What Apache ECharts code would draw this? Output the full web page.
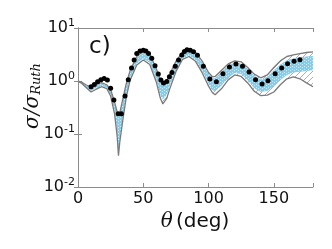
<!DOCTYPE html>
<html><head><meta charset="utf-8">
<script src="https://cdn.jsdelivr.net/npm/echarts@6/dist/echarts.min.js"></script>
<style>html,body{margin:0;padding:0;background:#fff}#c{width:332px;height:249px}</style>
</head><body><div id="c"></div>
<script>
const xTicks = [0, 50, 100, 150];
const yTicks = [0.01, 0.1, 1, 10];
const thetaBand = [0,3,6,10,14,18,22,25,28,30,31,32,34,37,40,45,50,55,60,63,65,68,70,75,80,85,90,95,100,103,105,110,115,120,125,130,135,140,145,150,155,160,165,170,175,180];
const greyUpper = [1.0,0.95,0.85,0.77,0.86,0.93,0.85,0.69,0.40,0.26,0.22,0.25,0.42,0.9,1.6,2.9,3.6,3.2,1.7,1.08,0.93,1.0,1.3,2.35,3.5,4.0,3.5,2.4,1.45,1.2,1.22,1.6,2.1,2.4,2.3,1.8,1.35,1.15,1.3,1.8,2.4,2.9,3.1,3.3,3.45,3.55];
const greyLower = [0.98,0.9,0.76,0.62,0.7,0.78,0.72,0.52,0.24,0.09,0.039,0.07,0.16,0.5,1.05,2.0,2.5,2.05,0.95,0.48,0.37,0.47,0.68,1.5,2.55,2.9,2.35,1.45,0.8,0.6,0.55,0.72,1.05,1.3,1.22,0.92,0.64,0.53,0.54,0.62,0.85,1.1,1.2,1.1,0.92,0.78];
const blueUpper = [0.99,0.94,0.83,0.75,0.84,0.91,0.83,0.66,0.37,0.24,0.21,0.23,0.39,0.85,1.5,2.75,3.4,3.0,1.6,1.02,0.88,0.95,1.22,2.2,3.3,3.75,3.3,2.25,1.36,1.12,1.14,1.5,1.95,2.25,2.15,1.68,1.25,1.07,1.2,1.6,2.05,2.45,2.65,2.8,2.9,2.95];
const blueLower = [0.98,0.91,0.78,0.65,0.73,0.81,0.75,0.55,0.27,0.11,0.05,0.085,0.19,0.56,1.15,2.15,2.65,2.2,1.05,0.56,0.45,0.55,0.78,1.62,2.7,3.05,2.5,1.58,0.9,0.68,0.64,0.82,1.17,1.42,1.35,1.03,0.73,0.62,0.65,0.8,1.05,1.3,1.45,1.5,1.55,1.6];
const dataTheta = [10,12.5,15,17.5,20,22.5,25,27.5,30.8,33.2,36,38.5,41,43,45,47.5,50,52,54,56.5,59,61.5,63.5,65.5,68,70,72,74.5,77,79.5,81.5,83.5,86,88.5,91.5,96,101,106,111,116,121,126,131,136,141,145.5,151,156,160.5,165.5,170];
const dataValue = [0.78,0.86,0.97,1.06,1.11,1.04,0.73,0.44,0.24,0.24,0.52,1.06,1.76,2.5,3.3,3.7,3.8,3.7,3.3,2.7,1.93,1.35,1.05,0.92,0.98,1.2,1.45,1.9,2.5,3.1,3.6,3.9,3.8,3.55,3.05,1.9,1.09,0.97,1.37,1.84,2.1,1.89,1.48,1.06,0.88,1.01,1.37,1.76,2.12,2.35,2.51];

function hatch(){
  const c=document.createElement('canvas');c.width=6;c.height=6;const g=c.getContext('2d');
  g.fillStyle='#ffffff';g.fillRect(0,0,6,6);
  g.strokeStyle='#9a9a9a';g.lineWidth=0.8;
  g.beginPath();g.moveTo(0,6);g.lineTo(6,0);g.moveTo(-3,3);g.lineTo(3,-3);g.moveTo(3,9);g.lineTo(9,3);g.stroke();
  return c;
}
function dots(){
  const c=document.createElement('canvas');c.width=4;c.height=3;const g=c.getContext('2d');
  g.fillStyle='#87cdea';g.fillRect(0,0,4,3);
  g.fillStyle='#c9e9f6';g.fillRect(0,0,1,1);g.fillRect(2,1,1,1);
  return c;
}
const hatchP={image:hatch(),repeat:'repeat'};
const dotP={image:dots(),repeat:'repeat'};
function band(up,lo,fill){
  return {type:'custom',silent:true,data:[[0,1]],encode:{x:0,y:1},
    renderItem:function(params,api){
      const pts=[];
      for(let i=0;i<thetaBand.length;i++)pts.push(api.coord([thetaBand[i],up[i]]));
      for(let i=thetaBand.length-1;i>=0;i--)pts.push(api.coord([thetaBand[i],lo[i]]));
      return {type:'polygon',shape:{points:pts},style:{fill:fill,stroke:null}};
    }};
}
function lineS(vals){
  return {type:'line',data:thetaBand.map((t,i)=>[t,vals[i]]),showSymbol:false,silent:true,
    lineStyle:{color:'#7a7a7a',width:1.3},z:3};
}
const chart=echarts.init(document.getElementById('c'),null,{renderer:'canvas'});
const axisCommon={axisLine:{show:true,lineStyle:{color:'#8c8c8c',width:1}},
  axisTick:{show:true,inside:true,length:4,lineStyle:{color:'#8c8c8c'}},splitLine:{show:false}};
chart.setOption({
  animation:false,
  grid:{left:78,right:19,top:28,bottom:62},
  xAxis:[Object.assign({type:'value',min:0,max:180,interval:50,position:'bottom',
    axisLabel:{color:'#111',fontSize:16,fontFamily:'DejaVu Sans',margin:4,
      customValues:xTicks},
    },axisCommon),
    Object.assign({type:'value',min:0,max:180,interval:50,position:'top',axisLabel:{show:false}},axisCommon)],
  yAxis:[Object.assign({type:'log',min:0.01,max:10,logBase:10,
    axisLabel:{margin:3,fontFamily:'DejaVu Sans',color:'#111',
      formatter:function(v){const e=Math.round(Math.log10(v));return '{b|10}{s|'+e+'}';},
      rich:{b:{fontSize:16,fontFamily:'DejaVu Sans',color:'#111'},s:{fontSize:11,fontFamily:'DejaVu Sans',color:'#111',padding:[0,0,9,0]}}}
    },axisCommon),
    Object.assign({type:'log',min:0.01,max:10,logBase:10,position:'right',axisLabel:{show:false}},axisCommon)],
  series:[
    band(greyUpper,greyLower,hatchP),
    band(blueUpper,blueLower,dotP),
    lineS(greyUpper),lineS(greyLower),
    {type:'scatter',data:dataTheta.map((t,i)=>[t,dataValue[i]]),symbolSize:5,itemStyle:{color:'#000',opacity:1},z:5}
  ],
  graphic:[
    {type:'text',left:89,top:36,style:{text:'c)',fontSize:23,fontFamily:'DejaVu Sans',fill:'#111'}},
    {type:'text',x:195,y:222,style:{text:'{t|θ} {n|(deg)}',align:'center',verticalAlign:'middle',
      rich:{t:{fontSize:20,fontFamily:'DejaVu Serif',fontStyle:'italic',fill:'#111'},n:{fontSize:20,fontFamily:'DejaVu Sans',fill:'#111'}}}},
    {type:'text',x:33,y:96,rotation:Math.PI/2,style:{text:'{g|σ/σ}{r|Ruth}',align:'center',verticalAlign:'middle',
      rich:{g:{fontSize:20,fontFamily:'DejaVu Serif',fontStyle:'italic',fill:'#111'},r:{fontSize:13,fontFamily:'DejaVu Serif',fontStyle:'italic',fill:'#111',padding:[8,0,0,0]}}}}
  ]
});
</script></body></html>
